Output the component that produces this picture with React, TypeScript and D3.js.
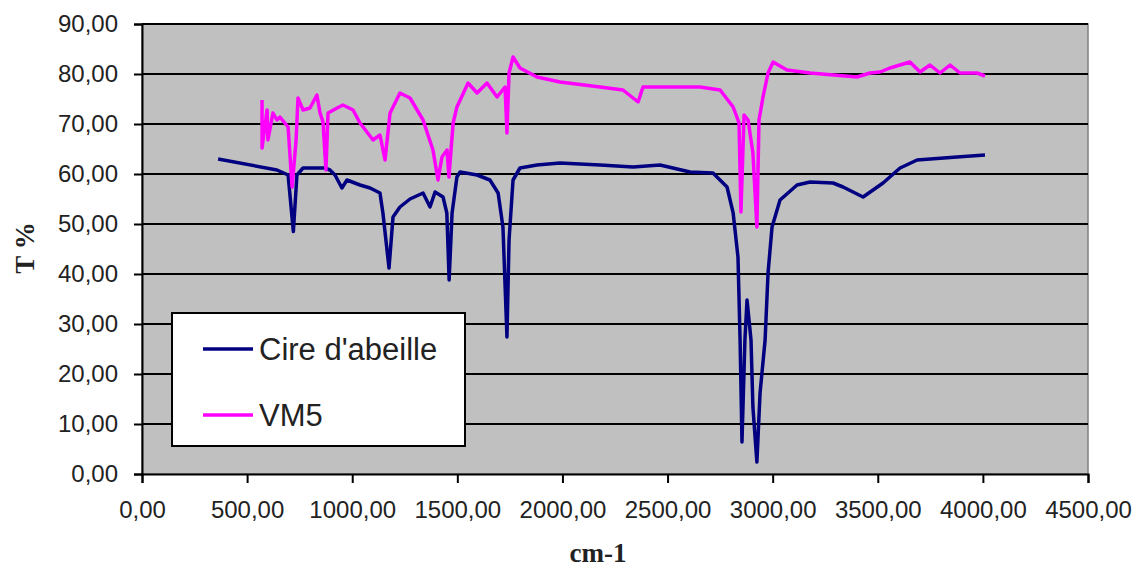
import * as d3 from 'd3';
import { useEffect, useRef } from 'react';

// wavenumber (cm-1) / transmittance (%)
const cireX = [362, 642, 695, 720, 737, 766, 870, 894, 918, 951, 975, 1037, 1085, 1132, 1146, 1175, 1194, 1227, 1275, 1337, 1370, 1394, 1432, 1450, 1461, 1475, 1498, 1513, 1594, 1655, 1694, 1717, 1736, 1746, 1765, 1798, 1879, 1988, 2179, 2336, 2464, 2607, 2716, 2783, 2812, 2835, 2845, 2854, 2868, 2878, 2897, 2906, 2925, 2940, 2964, 2978, 2997, 3035, 3116, 3178, 3287, 3335, 3430, 3525, 3606, 3687, 3877, 4010];
const cireY = [63.0, 60.8, 59.8, 48.5, 59.8, 61.2, 61.2, 60.8, 59.8, 57.2, 58.8, 57.8, 57.2, 56.2, 52.2, 41.2, 51.4, 53.4, 55.0, 56.2, 53.4, 56.4, 55.4, 52.2, 38.8, 52.2, 59.4, 60.4, 59.8, 58.8, 56.2, 49.4, 27.4, 46.8, 58.8, 61.2, 61.8, 62.2, 61.8, 61.4, 61.8, 60.4, 60.2, 57.4, 52.2, 43.4, 26.8, 6.4, 26.8, 34.8, 26.8, 13.4, 2.4, 16.2, 26.8, 40.2, 49.4, 54.8, 57.8, 58.4, 58.2, 57.4, 55.4, 58.2, 61.2, 62.8, 63.4, 63.8];

const vm5X = [571, 571, 595, 599, 623, 642, 656, 695, 714, 733, 742, 766, 799, 832, 847, 861, 875, 885, 928, 956, 1004, 1037, 1099, 1132, 1156, 1180, 1227, 1275, 1337, 1384, 1408, 1427, 1451, 1460, 1480, 1498, 1551, 1594, 1641, 1689, 1727, 1736, 1746, 1765, 1798, 1879, 1988, 2179, 2288, 2360, 2383, 2654, 2750, 2812, 2840, 2849, 2864, 2883, 2906, 2925, 2935, 2954, 2978, 3002, 3068, 3178, 3401, 3463, 3511, 3558, 3653, 3701, 3748, 3796, 3844, 3891, 3972, 4010];
const vm5Y = [74.8, 65.2, 72.8, 66.8, 72.2, 70.8, 71.4, 69.4, 57.4, 66.8, 75.2, 72.8, 73.2, 75.8, 72.2, 70.4, 60.8, 72.2, 73.2, 73.8, 72.8, 70.2, 66.8, 67.8, 62.8, 72.2, 76.2, 75.2, 70.8, 64.8, 58.8, 63.4, 64.8, 59.4, 70.2, 73.4, 78.2, 76.2, 78.2, 75.4, 77.4, 68.2, 80.2, 83.4, 81.2, 79.4, 78.4, 77.4, 76.8, 74.4, 77.4, 77.4, 76.8, 73.4, 70.2, 52.4, 71.8, 70.8, 64.2, 49.4, 70.8, 75.4, 80.2, 82.4, 80.8, 80.2, 79.4, 80.2, 80.4, 81.2, 82.4, 80.4, 81.8, 80.2, 81.8, 80.2, 80.2, 79.6];

const seriesNames = ["Cire d'abeille", 'VM5'];
const seriesColors = ['#000080', '#ff00ff'];
const xTicks = [0, 500, 1000, 1500, 2000, 2500, 3000, 3500, 4000, 4500];
const yTicks = [0, 10, 20, 30, 40, 50, 60, 70, 80, 90];

const fmt = (v: number) => v.toFixed(2).replace('.', ',');

export default function App() {
  const ref = useRef<SVGSVGElement>(null);

  useEffect(() => {
    document.body.style.margin = '0';
    const width = 1136;
    const height = 572;
    const left = 142, right = 1088, top = 24, bottom = 474;

    const svg = d3.select(ref.current);
    svg.selectAll('*').remove();
    svg.attr('width', width).attr('height', height);

    svg.append('rect').attr('width', width).attr('height', height).attr('fill', '#fff');

    const x = d3.scaleLinear().domain([0, 4500]).range([left, right]);
    const y = d3.scaleLinear().domain([0, 90]).range([bottom, top]);

    // plot area
    svg.append('rect')
      .attr('x', left).attr('y', top)
      .attr('width', right - left).attr('height', bottom - top)
      .attr('fill', '#c0c0c0')
      .attr('stroke', '#808080')
      .attr('stroke-width', 1.5);

    // gridlines
    svg.append('g')
      .selectAll('line')
      .data(yTicks.filter(t => t > 0))
      .enter()
      .append('line')
      .attr('x1', left).attr('x2', right)
      .attr('y1', d => y(d)).attr('y2', d => y(d))
      .attr('stroke', '#000')
      .attr('stroke-width', 2);

    // series
    const line = d3.line<[number, number]>()
      .x(d => x(d[0]))
      .y(d => y(d[1]));

    const series = [
      d3.zip(cireX, cireY) as [number, number][],
      d3.zip(vm5X, vm5Y) as [number, number][]
    ];

    series.forEach((pts, i) => {
      svg.append('path')
        .datum(pts)
        .attr('d', line)
        .attr('fill', 'none')
        .attr('stroke', seriesColors[i])
        .attr('stroke-width', 3.5)
        .attr('stroke-linejoin', 'round');
    });

    // axes
    const yAxis = svg.append('g')
      .attr('transform', `translate(${left},0)`)
      .call(d3.axisLeft(y).tickValues(yTicks).tickSize(8).tickPadding(16).tickFormat(d => fmt(+d)));
    const xAxis = svg.append('g')
      .attr('transform', `translate(0,${bottom})`)
      .call(d3.axisBottom(x).tickValues(xTicks).tickSize(9).tickPadding(18).tickFormat(d => fmt(+d)));

    [xAxis, yAxis].forEach(g => {
      g.select('.domain').attr('stroke', '#000').attr('stroke-width', 2);
      g.selectAll('.tick line').attr('stroke', '#000').attr('stroke-width', 2);
      g.selectAll('.tick text')
        .attr('fill', '#222')
        .style('font-family', '"Liberation Sans", Arial, sans-serif')
        .style('font-size', '24px');
    });

    // axis titles
    svg.append('text')
      .attr('transform', 'translate(34,248) rotate(-90)')
      .attr('text-anchor', 'middle')
      .style('font-family', '"Liberation Serif", "Times New Roman", serif')
      .style('font-weight', 'bold')
      .style('font-size', '27px')
      .attr('fill', '#222')
      .text('T %');

    svg.append('text')
      .attr('x', 598).attr('y', 562)
      .attr('text-anchor', 'middle')
      .style('font-family', '"Liberation Serif", "Times New Roman", serif')
      .style('font-weight', 'bold')
      .style('font-size', '27px')
      .attr('fill', '#222')
      .text('cm-1');

    // legend
    const legend = svg.append('g');
    legend.append('rect')
      .attr('x', 172).attr('y', 313)
      .attr('width', 293).attr('height', 133)
      .attr('fill', '#fff')
      .attr('stroke', '#000')
      .attr('stroke-width', 2);

    seriesNames.forEach((name, i) => {
      const ly = 349 + i * 66;
      legend.append('line')
        .attr('x1', 203).attr('x2', 253)
        .attr('y1', ly).attr('y2', ly)
        .attr('stroke', seriesColors[i])
        .attr('stroke-width', 3.5);
      legend.append('text')
        .attr('x', 259).attr('y', ly + 11)
        .style('font-family', '"Liberation Sans", Arial, sans-serif')
        .style('font-size', '31px')
        .attr('fill', '#222')
        .text(name);
    });
  }, []);

  return <svg ref={ref} style={{ display: 'block' }}></svg>;
}
